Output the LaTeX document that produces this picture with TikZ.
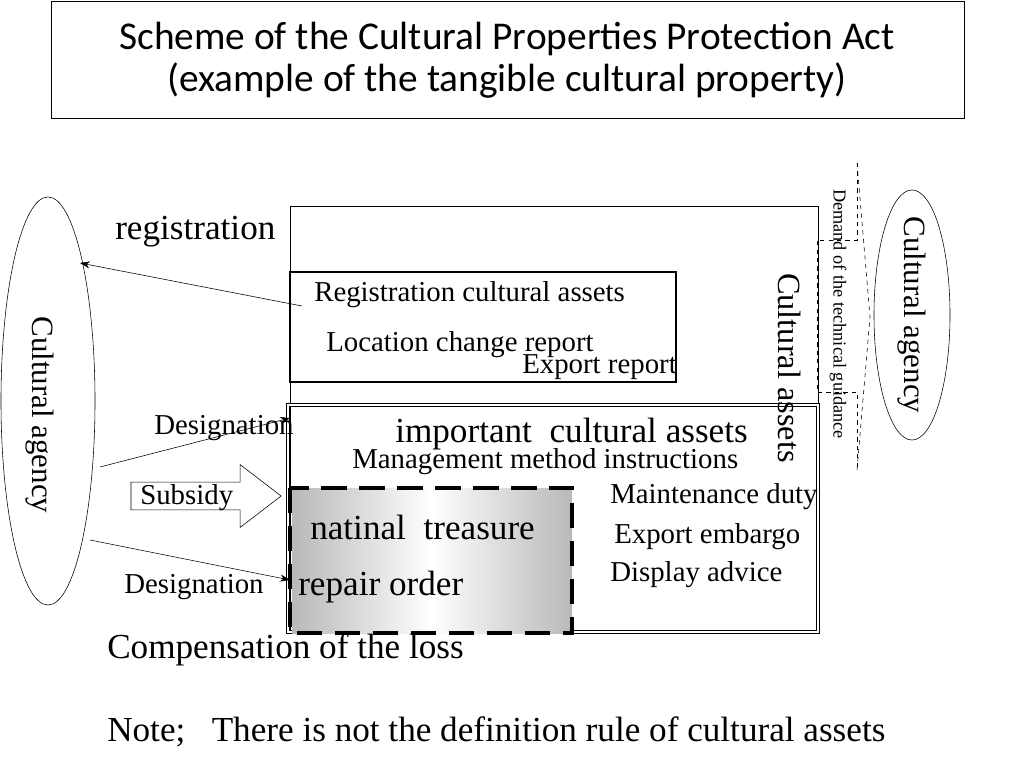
\documentclass[tikz,border=0pt]{standalone}
\usepackage{fontspec}
\setmainfont{Liberation Serif}
\newfontfamily\titlefont{Carlito}
\usetikzlibrary{shapes.arrows,shapes.geometric}
\tikzset{
	lbl/.style={inner sep=0pt,anchor=west,font=\fontsize{20.5}{23}\selectfont},
	big/.style={inner sep=0pt,anchor=west,font=\fontsize{25}{28}\selectfont},
	conn/.style={-{Stealth[length=7pt,width=5pt]}},
	guide/.style={dashed,thin}
}
\usetikzlibrary{arrows.meta}
\begin{document}
\begin{tikzpicture}[x=0.025cm,y=-0.025cm]
		\useasboundingbox (0,0) rectangle (1024,768);
		% title
		\draw (51,1) rectangle (964,118);
		\node[align=center,font=\titlefont\fontsize{28}{30}\selectfont] (title) at (507,60) {Scheme of the Cultural Properties Protection Act\\(example of the tangible cultural property)};
		
		% boxes
		\draw (290,206) rectangle (818,632);
		\draw[double,double distance=1.5pt] (288,405) rectangle (818,632);
		\shade[left color=gray!55,right color=gray!55,middle color=white] (292,488) rectangle (572,633);
		\draw[line width=3.5pt,dash pattern=on 18pt off 9pt] (290,488) rectangle (572,633);
		\draw[very thick,fill=white] (290,272) rectangle (676,382);
		
		\node[draw,ellipse,inner sep=0pt,minimum width=2.35cm,minimum height=10.2cm] (agl) at (48,401) {};
		\node[draw,ellipse,inner sep=0pt,minimum width=1.9cm,minimum height=6.25cm] (agr) at (912,315) {};
		\node[rotate=-90,font=\fontsize{22}{24}\selectfont] (agltxt) at (40,415) {Cultural agency};
		\node[rotate=-90,font=\fontsize{22}{24}\selectfont] (agrtxt) at (912,315) {Cultural agency};
		\node[rotate=-90,font=\fontsize{23}{25}\selectfont] (assets) at (790,368) {Cultural assets};
		\node[rotate=-90,font=\fontsize{13}{15}\selectfont] (demand) at (838,314) {Demand of the technical guidance};
		
		\draw[guide] (857,163) -- (870,317) -- (857,470);
		\draw[guide] (857,163) -- (857,240) -- (817,240) -- (817,392) -- (857,392) -- (857,470);
		
		% texts
		\node[big] (reg) at (115,232) {registration};
		\node[lbl] (regca) at (314,295) {Registration cultural assets};
		\node[lbl] (loc) at (326,345) {Location change report};
		\node[lbl] (exp) at (522,367) {Export report};
		\node[lbl] (des1) at (154,428) {Designation};
		\node[big] (imp) at (395,434) {important\ \ cultural assets};
		\node[lbl] (mgmt) at (352,462) {Management method instructions};
		\node[lbl] (main) at (610,497) {Maintenance duty};
		\node[lbl] (emb) at (614,537) {Export embargo};
		\node[lbl] (disp) at (610,575) {Display advice};
		\node[big] (nat) at (310,527) {natinal\ \ treasure};
		\node[big] (rep) at (298,587) {repair order};
		\node[lbl] (des2) at (124,587) {Designation};
		\node[single arrow,draw,minimum height=3.75cm,minimum width=1.55cm,single arrow head extend=0.44cm,single arrow tip angle=75,inner sep=0pt,text height=0.68cm] (sub) at (197,496) {};
		\node[lbl] (subtxt) at (140,498) {Subsidy};
		\node[big] (comp) at (107,650) {Compensation of the loss};
		\node[big] (note) at (107,732) {Note;\ \ \ There is not the definition rule of cultural assets};
		
		% connectors
		\coordinate (r0) at (302,306);
		\coordinate (d1) at (290,418);
		\coordinate (d2) at (290,580);
		\draw[conn] (r0) -- (80,263);
		\draw[conn] (100,467) -- (d1);
		\draw[conn] (90,540) -- (d2);
	\end{tikzpicture}
\end{document}
